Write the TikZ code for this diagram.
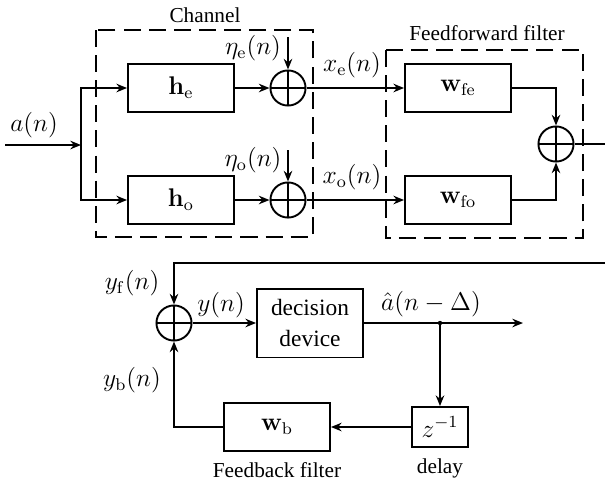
\documentclass[tikz,border=0pt]{standalone}
\usepackage[no-math]{fontspec}
\setmainfont{Liberation Serif}
\usetikzlibrary{arrows.meta,calc}
\begin{document}
\begin{tikzpicture}[x=0.47pt,y=-0.47pt,
  line width=0.9pt,
  >={Stealth[length=5pt,width=4pt]},
  blk/.style={draw,rectangle,inner sep=0pt,minimum width=49.8pt,minimum height=22.6pt,font=\large},
  summ/.style={draw,circle,minimum size=16.5pt,inner sep=0pt,
    path picture={\draw (path picture bounding box.north) -- (path picture bounding box.south)
      (path picture bounding box.west) -- (path picture bounding box.east);}},
  lab/.style={font=\large,inner sep=0pt},
  txt/.style={font=\normalsize,inner sep=0pt},
  dbox/.style={draw,dash pattern=on 8pt off 3.8pt}
]
\useasboundingbox (0,0) rectangle (605,481);
% top part
\coordinate (in) at (5,145);
\coordinate (br) at (81,145);
\node[blk] (he) at (181,88) {$\mathbf{h}_\mathrm{e}$};
\node[blk] (ho) at (181,200) {$\mathbf{h}_\mathrm{o}$};
\node[summ] (se) at (288,88) {};
\node[summ] (so) at (288,200) {};
\coordinate (ne) at (288,37);
\coordinate (no) at (288,150);
\node[blk] (wfe) at (458,88) {$\mathbf{w}_\mathrm{fe}$};
\node[blk] (wfo) at (458,200) {$\mathbf{w}_\mathrm{fo}$};
\node[summ] (sf) at (556,144) {};
\coordinate (out) at (605,144);

\draw[->] (in) -- (br);
\draw[->] (br) |- (he);
\draw[->] (br) |- (ho);
\draw[->] (he) -- (se);
\draw[->] (ho) -- (so);
\draw[->] (ne) -- (se);
\draw[->] (no) -- (so);
\draw[->] (se) -- (wfe);
\draw[->] (so) -- (wfo);
\draw[->] (wfe) -| (sf);
\draw[->] (wfo) -| (sf);
\draw (sf) -- (out);

\draw[dbox] (96,30) rectangle (313,237);
\node[txt] (chl) at (205,15) {Channel};
\draw[dbox] (386,50) rectangle (583,238);
\node[txt] (ffl) at (487,33) {Feedforward filter};

\node[lab] (la) at (34,125) {$a(n)$};
\node[lab] (lne) at (253,48) {$\eta_\mathrm{e}(n)$};
\node[lab] (lno) at (253,160) {$\eta_\mathrm{o}(n)$};
\node[lab] (lxe) at (352,65) {$x_\mathrm{e}(n)$};
\node[lab] (lxo) at (352,177) {$x_\mathrm{o}(n)$};

% bottom part
\coordinate (fb) at (605,263);
\node[summ] (sb) at (174,323) {};
\node[blk, minimum height=32.4pt, font=\fontsize{11}{15}\selectfont, align=center] (dd) at (310,323) {decision\\device};
\coordinate (dot) at (440,323);
\coordinate (ahat) at (523,323);
\node[blk, minimum width=26.3pt, minimum height=18.8pt] (dl) at (440,427) {$z^{-1}$};
\node[blk] (wb) at (277,427) {$\mathbf{w}_\mathrm{b}$};

\draw[->] (fb) -| (sb);
\draw[->] (sb) -- (dd);
\draw[->] (dd) -- (ahat);
\fill (dot) circle (2.2);
\draw[->] (dot) -- (dl);
\draw[->] (dl) -- (wb);
\draw[->] (wb) -| (sb);

\node[lab] (lyf) at (132,283) {$y_\mathrm{f}(n)$};
\node[lab] (ly) at (221,305) {$y(n)$};
\node[lab] (lah) at (431,304) {$\hat{a}(n-\Delta)$};
\node[lab] (lyb) at (132,380) {$y_\mathrm{b}(n)$};
\node[txt] (fbl) at (277,470) {Feedback filter};
\node[txt] (dll) at (440,468) {delay};
\end{tikzpicture}
\end{document}
